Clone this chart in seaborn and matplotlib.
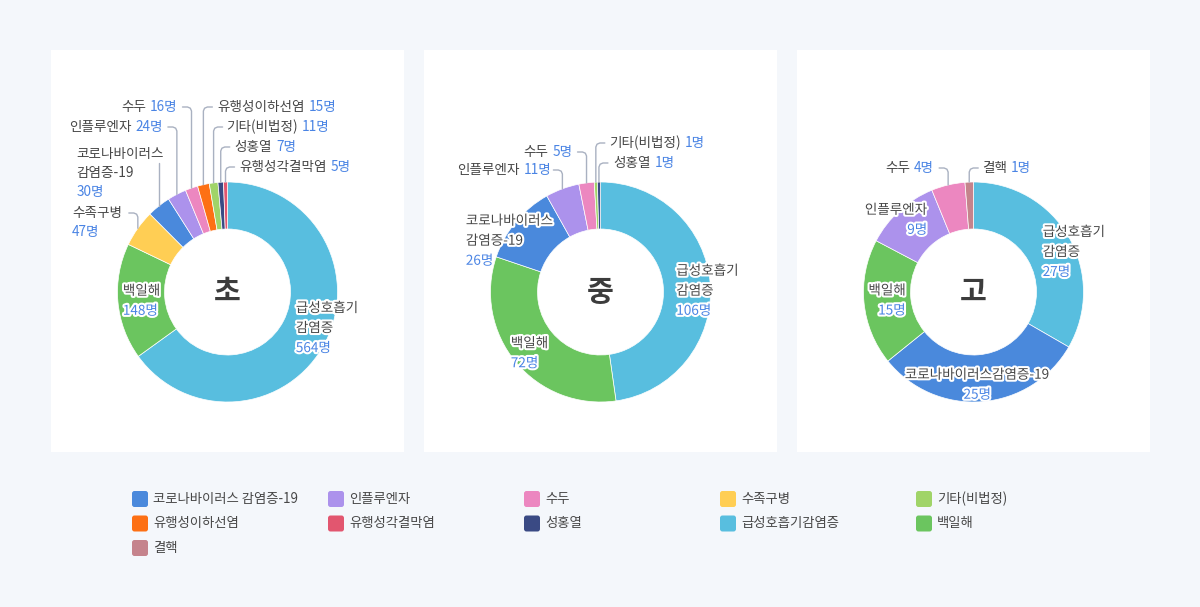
import matplotlib
matplotlib.use('Agg')
import matplotlib.pyplot as plt
import seaborn as sns
import numpy as np
from matplotlib.patches import Rectangle, FancyBboxPatch
import matplotlib.patheffects as pe

sns.set_theme(style='white')
plt.rcParams['font.family'] = ['Noto Sans CJK KR', 'DejaVu Sans']

# ---------------- data ----------------
school_titles = ['초', '중', '고']

elem_labels = ['급성호흡기감염증', '백일해', '수족구병', '코로나바이러스감염증-19', '인플루엔자',
               '수두', '유행성이하선염', '기타(비법정)', '성홍열', '유행성각결막염']
elem_values = [564, 148, 47, 30, 24, 16, 15, 11, 7, 5]

mid_labels = ['급성호흡기감염증', '백일해', '코로나바이러스감염증-19', '인플루엔자', '수두',
              '기타(비법정)', '성홍열']
mid_values = [106, 72, 26, 11, 5, 1, 1]

high_labels = ['급성호흡기감염증', '코로나바이러스감염증-19', '백일해', '인플루엔자', '수두', '결핵']
high_values = [27, 25, 15, 9, 4, 1]

legend_keys = ['코로나바이러스감염증-19', '인플루엔자', '수두', '수족구병', '기타(비법정)',
               '유행성이하선염', '유행성각결막염', '성홍열', '급성호흡기감염증', '백일해', '결핵']
legend_texts = ['코로나바이러스 감염증-19', '인플루엔자', '수두', '수족구병', '기타(비법정)',
                '유행성이하선염', '유행성각결막염', '성홍열', '급성호흡기감염증', '백일해', '결핵']
legend_hex = ['#4A89DC', '#AC92EC', '#EC87C0', '#FFCE54', '#A0D468',
              '#FD7014', '#E2566F', '#3A4A84', '#58BEDF', '#6BC55F', '#C5838C']

palette = dict(zip(legend_keys, sns.color_palette(legend_hex)))

# ---------------- style / layout ----------------
BG = '#F4F7FB'
NAME_C = '#474747'
VAL_C = '#4A84E4'
LINE_C = '#A9B1C1'
FS = 9.75
LS = 20

# inside: (kind, align, dx, dy, name lines)
# outside: (kind, side, label y, gap, name lines, value inline)
layout1 = {
    '급성호흡기감염증': ('in', 'left', -10, -4, ['급성호흡기', '감염증']),
    '백일해': ('in', 'left', -17, 1, ['백일해']),
    '수족구병': ('out', 'L', 213, 16, ['수족구병'], False),
    '코로나바이러스감염증-19': ('out', 'L', 154, -5, ['코로나바이러스', '감염증-19'], False),
    '인플루엔자': ('out', 'L', 127, 14, ['인플루엔자'], True),
    '수두': ('out', 'L', 107, 14, ['수두'], True),
    '유행성이하선염': ('out', 'R', 107, 14, ['유행성이하선염'], True),
    '기타(비법정)': ('out', 'R', 127, 13, ['기타(비법정)'], True),
    '성홍열': ('out', 'R', 147, 14, ['성홍열'], True),
    '유행성각결막염': ('out', 'R', 167, 14, ['유행성각결막염'], True),
}
layout2 = {
    '급성호흡기감염증': ('in', 'left', -12, 5, ['급성호흡기', '감염증']),
    '백일해': ('in', 'left', -22, 5, ['백일해']),
    '코로나바이러스감염증-19': ('in', 'left', -67, 5, ['코로나바이러스', '감염증-19']),
    '인플루엔자': ('out', 'L', 170, 11, ['인플루엔자'], True),
    '수두': ('out', 'L', 152, 14, ['수두'], True),
    '기타(비법정)': ('out', 'R', 143, 13, ['기타(비법정)'], True),
    '성홍열': ('out', 'R', 163, 14, ['성홍열'], True),
}
layout3 = {
    '급성호흡기감염증': ('in', 'left', -7, 4, ['급성호흡기', '감염증']),
    '코로나바이러스감염증-19': ('in', 'center', -3, 5, ['코로나바이러스감염증-19']),
    '백일해': ('in', 'right', 20, 0, ['백일해']),
    '인플루엔자': ('in', 'right', 13, -7, ['인플루엔자']),
    '수두': ('out', 'L', 168, 14, ['수두'], True),
    '결핵': ('out', 'R', 168, 13, ['결핵'], True),
}

panels = [
    (51, school_titles[0], elem_labels, elem_values, layout1),
    (424, school_titles[1], mid_labels, mid_values, layout2),
    (797, school_titles[2], high_labels, high_values, layout3),
]
PW, PTOP, PH = 353, 50, 402
CY, R, RW = 292, 110, 47

fig = plt.figure(figsize=(12, 6.07), dpi=100, facecolor=BG)
ax = fig.add_axes([0, 0, 1, 1])
ax.set_facecolor(BG)
renderer = fig.canvas.get_renderer()


def tw(s, size=FS):
    t = ax.text(0, 0, s, fontsize=size)
    w = t.get_window_extent(renderer=renderer).width
    t.remove()
    return w


halo = [pe.withStroke(linewidth=3, foreground='white')]

for x0, title, labels, values, lay in panels:
    ax.add_patch(Rectangle((x0, PTOP), PW, PH, facecolor='white', edgecolor='none', zorder=0))
    cx = x0 + PW / 2
    cols = [palette[l] for l in labels]
    ax.pie(values, colors=cols, radius=R, center=(cx, CY), startangle=270, counterclock=True,
           wedgeprops=dict(width=RW, edgecolor='white', linewidth=0.5))
    ax.text(cx, CY, title, fontsize=21, fontweight='bold', color='#3C3C3C',
            ha='center', va='center')
    vals = np.array(values, dtype=float)
    ends = np.cumsum(vals) / vals.sum()
    starts = ends - vals / vals.sum()
    for lab, v, s, e in zip(labels, values, starts, ends):
        phi = np.deg2rad(360 * (s + e) / 2)
        spec = lay[lab]
        vtxt = f'{v}명'
        if spec[0] == 'in':
            _, align, dx, dy, names = spec
            ax_ = cx + 88 * np.sin(phi) + dx
            ay_ = CY - 88 * np.cos(phi) + dy
            lines = [(n, NAME_C) for n in names] + [(vtxt, VAL_C)]
            n = len(lines)
            for i, (t, c) in enumerate(lines):
                ax.text(ax_, ay_ + (i - (n - 1) / 2) * LS, t, fontsize=FS, color=c,
                        ha=align, va='center', path_effects=halo, zorder=5)
        else:
            _, side, ly, gap, names, inline = spec
            lx = cx + R * np.sin(phi)
            y_start = CY - R * np.cos(phi)
            sgn = -1 if side == 'L' else 1
            if gap >= 0:
                xs = [lx, lx, lx + sgn * 1.2, lx + sgn * 4, lx + sgn * 9]
                ys = [y_start, ly + 4, ly + 1.2, ly, ly]
                edge = lx + sgn * gap
            else:
                xs = [lx, lx]
                ys = [y_start, ly + 9]
                edge = lx - gap
            ax.plot(xs, ys, color=LINE_C, lw=1, solid_capstyle='round', zorder=3)
            if inline:
                wn = tw(names[0])
                wv = tw(vtxt)
                sp = 4
                if side == 'L':
                    ax.text(edge, ly, vtxt, fontsize=FS, color=VAL_C, ha='right', va='center')
                    ax.text(edge - wv - sp, ly, names[0], fontsize=FS, color=NAME_C,
                            ha='right', va='center')
                else:
                    ax.text(edge, ly, names[0], fontsize=FS, color=NAME_C, ha='left', va='center')
                    ax.text(edge + wn + sp, ly, vtxt, fontsize=FS, color=VAL_C,
                            ha='left', va='center')
            else:
                lines = [(n, NAME_C) for n in names] + [(vtxt, VAL_C)]
                W = max(tw(t) for t, _ in lines)
                left = edge - W if side == 'L' else edge
                for i, (t, c) in enumerate(lines):
                    ax.text(left, ly + i * 19, t, fontsize=FS, color=c, ha='left', va='center')

# legend
for i, (key, txt) in enumerate(zip(legend_keys, legend_texts)):
    col, row = i % 5, i // 5
    lx = 132 + 196 * col
    ly = 491 + 24.5 * row
    ax.add_patch(FancyBboxPatch((lx + 1.5, ly + 1.5), 13, 13,
                                boxstyle='round,pad=1.5,rounding_size=2.5',
                                facecolor=palette[key], edgecolor='none'))
    ax.text(lx + 21, ly + 8, txt, fontsize=9.6, color=NAME_C, ha='left', va='center')

ax.set_xlim(0, 1200)
ax.set_ylim(607, 0)
ax.set_aspect('auto')
ax.axis('off')

fig.savefig('out.png', dpi=100, facecolor=BG)
